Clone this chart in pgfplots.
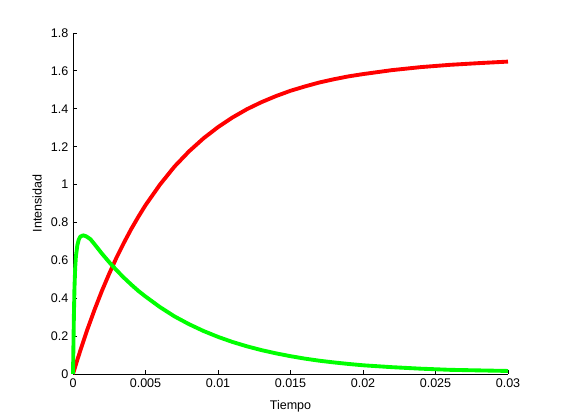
\documentclass[border=0pt]{standalone}
\usepackage{fontspec}
\setmainfont{Liberation Sans}
\usepackage{pgfplots}
\pgfplotsset{compat=1.18}
\begin{document}
\begin{tikzpicture}
\begin{axis}[
  at={(54.75pt,34.5pt)}, anchor=south west,
  scale only axis, width=326.25pt, height=255.75pt,
  xmin=0, xmax=0.03, ymin=0, ymax=1.8,
  axis x line*=bottom, axis y line*=left,
  axis line style={-, line width=0.6pt},
  tick align=inside, major tick length=3pt,
  tick style={black, line width=0.6pt},
  xtick={0,0.005,0.01,0.015,0.02,0.025,0.03},
  xticklabels={0,0.005,0.01,0.015,0.02,0.025,0.03},
  ytick={0,0.2,0.4,0.6,0.8,1,1.2,1.4,1.6,1.8},
  yticklabels={0,0.2,0.4,0.6,0.8,1,1.2,1.4,1.6,1.8},
  scaled x ticks=false,
  /pgf/number format/assume math mode=true,
  ticklabel style={font=\fontsize{9.4}{11}\selectfont},
  label style={font=\fontsize{9.4}{11}\selectfont},
  xlabel={Tiempo}, ylabel={Intensidad},
  xlabel style={yshift=-3pt},
  ylabel style={yshift=0pt},
  clip=false,
]
\addplot[color={rgb,1:red,1;green,0;blue,0}, line width=2.9pt, line join=round] coordinates {
(0,0) (0.0003,0.075) (0.0006,0.146) (0.001,0.237) (0.0015,0.342) (0.002,0.440)
(0.0025,0.530) (0.003,0.614) (0.0035,0.691) (0.004,0.763) (0.0045,0.829)
(0.005,0.891) (0.006,1.000) (0.007,1.095) (0.008,1.175) (0.009,1.244)
(0.01,1.303) (0.011,1.354) (0.012,1.398) (0.013,1.435) (0.014,1.467)
(0.015,1.495) (0.016,1.518) (0.017,1.539) (0.018,1.556) (0.019,1.571)
(0.02,1.583) (0.022,1.604) (0.024,1.620) (0.026,1.632) (0.028,1.641) (0.03,1.649)
};
\addplot[color={rgb,1:red,0;green,1;blue,0}, line width=2.9pt, line join=round] coordinates {
(0,0) (0.00003,0.15) (0.00006,0.30) (0.0001,0.45) (0.00015,0.56) (0.0002,0.62)
(0.0003,0.68) (0.0004,0.71) (0.0005,0.725) (0.0007,0.732) (0.0009,0.727)
(0.0012,0.712) (0.0016,0.674) (0.002,0.635) (0.0025,0.590) (0.003,0.548)
(0.0035,0.509) (0.004,0.473) (0.0045,0.439) (0.005,0.409) (0.006,0.353)
(0.007,0.304) (0.008,0.263) (0.009,0.227) (0.01,0.196) (0.011,0.169)
(0.012,0.146) (0.013,0.126) (0.014,0.109) (0.015,0.094) (0.016,0.081)
(0.017,0.070) (0.018,0.061) (0.019,0.053) (0.02,0.046) (0.022,0.036)
(0.024,0.028) (0.026,0.022) (0.028,0.019) (0.03,0.016)
};
\end{axis}
\pgfresetboundingbox
\path[use as bounding box] (0,0) rectangle (420.75pt,315pt);
\end{tikzpicture}
\end{document}
